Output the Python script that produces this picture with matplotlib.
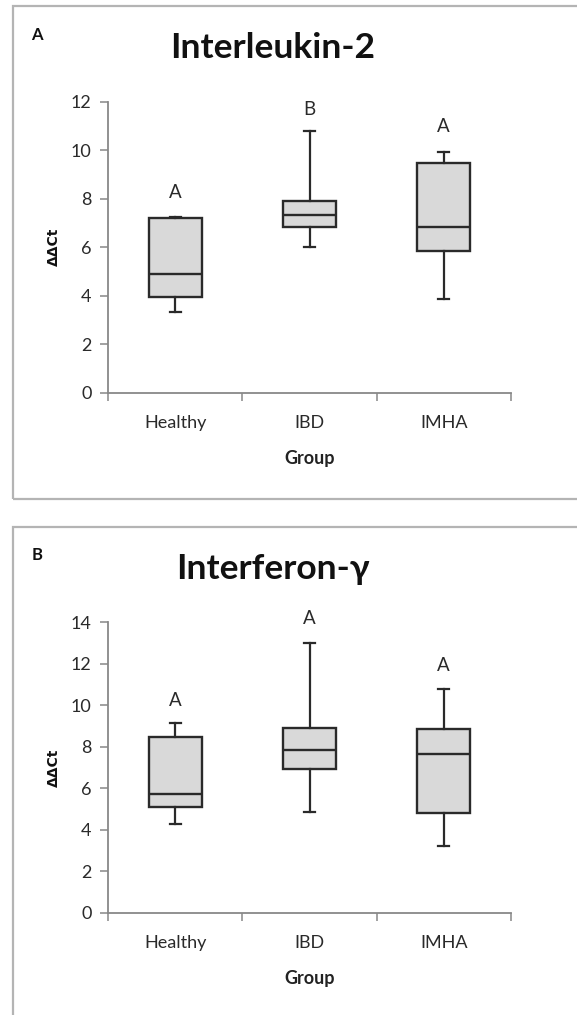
import matplotlib
matplotlib.use("Agg")
import matplotlib.pyplot as plt
from matplotlib.patches import Rectangle

plt.rcParams['font.family'] = ['Lato', 'DejaVu Sans']

groups = ["Healthy", "IBD", "IMHA"]

# Interleukin-2 (panel A)
il2_whislo = [3.31, 6.00, 3.88]
il2_q1 = [3.96, 6.85, 5.86]
il2_med = [4.89, 7.34, 6.85]
il2_q3 = [7.19, 7.89, 9.46]
il2_whishi = [7.25, 10.80, 9.94]
il2_letters = ["A", "B", "A"]
il2_letter_y = [8.25, 11.66, 10.97]

# Interferon-gamma (panel B)
ifn_whislo = [4.26, 4.87, 3.23]
ifn_q1 = [5.08, 6.91, 4.79]
ifn_med = [5.71, 7.84, 7.64]
ifn_q3 = [8.47, 8.92, 8.84]
ifn_whishi = [9.15, 12.99, 10.77]
ifn_letters = ["A", "A", "A"]
ifn_letter_y = [10.21, 14.18, 11.91]

W, H = 577, 1015
fig = plt.figure(figsize=(W / 100, H / 100), dpi=100)

# panel frames (light gray, open on right / bottom for panel B)
frame_col = "#b4b4b4"
fig.add_artist(Rectangle((12.5 / W, 1 - 499.5 / H), 600 / W, 493 / H,
                         transform=fig.transFigure, fill=False,
                         edgecolor=frame_col, lw=1.6))
fig.add_artist(Rectangle((12.5 / W, 1 - 1100 / H), 600 / W, (1100 - 526.5) / H,
                         transform=fig.transFigure, fill=False,
                         edgecolor=frame_col, lw=1.6))


def panel(top_px, bottom_px, whislo, q1, med, q3, whishi, letters, letter_y,
          ymax, title, label, title_y, label_y):
    left_px, right_px = 108.3, 510.7
    ax = fig.add_axes([left_px / W, 1 - bottom_px / H,
                       (right_px - left_px) / W, (bottom_px - top_px) / H])
    stats = []
    for i, g in enumerate(groups):
        stats.append(dict(label=g, whislo=whislo[i], q1=q1[i], med=med[i],
                          q3=q3[i], whishi=whishi[i], fliers=[]))
    edge = "#2a2a2a"
    ax.bxp(stats, positions=[1, 2, 3], widths=0.40, patch_artist=True,
           showfliers=False,
           boxprops=dict(facecolor="#d9d9d9", edgecolor=edge, linewidth=1.7),
           medianprops=dict(color=edge, linewidth=1.7),
           whiskerprops=dict(color=edge, linewidth=1.6),
           capprops=dict(color=edge, linewidth=1.6),
           capwidths=0.08)
    for i, (t, y) in enumerate(zip(letters, letter_y)):
        ax.text(i + 1, y, t, ha="center", va="center", fontsize=13.5,
                color="#2a2a2a")
    ax.set_xlim(0.5, 3.5)
    ax.set_ylim(0, ymax)
    ax.set_yticks(range(0, ymax + 1, 2))
    ax.tick_params(axis="y", labelsize=13, colors="#888888", labelcolor="#2a2a2a",
                   length=6, width=1.1, direction="out", pad=6)
    ax.set_xticks([0.5, 1.5, 2.5, 3.5])
    ax.set_xticklabels([])
    ax.set_xticks([1, 2, 3], minor=True)
    ax.set_xticklabels(groups, minor=True, fontsize=13, color="#2a2a2a")
    ax.tick_params(axis="x", which="major", length=6, width=1.1,
                   colors="#888888", direction="out")
    ax.tick_params(axis="x", which="minor", length=0, pad=16)
    for s in ["top", "right"]:
        ax.spines[s].set_visible(False)
    for s in ["left", "bottom"]:
        ax.spines[s].set_color("#888888")
        ax.spines[s].set_linewidth(1.3)
    ax.set_xlabel("Group", fontsize=13, fontweight="bold", color="#222222",
                  labelpad=14)
    ax.set_ylabel("ΔΔCt", fontsize=10, fontweight="bold", color="#111111",
                  labelpad=7, family=["DejaVu Sans"])
    fig.text(273 / W, 1 - title_y / H, title, ha="center", va="center",
             fontsize=25.5, fontweight="bold", color="#111111")
    fig.text(37 / W, 1 - label_y / H, label, ha="center", va="center",
             fontsize=12, fontweight="bold", color="#111111")
    return ax


panel(101.7, 392.7, il2_whislo, il2_q1, il2_med, il2_q3, il2_whishi,
      il2_letters, il2_letter_y, 12, "Interleukin-2", "A", 48, 35)
panel(622.3, 912.7, ifn_whislo, ifn_q1, ifn_med, ifn_q3, ifn_whishi,
      ifn_letters, ifn_letter_y, 14, "Interferon-γ", "B", 569, 555)

fig.savefig("out.png", dpi=100)
